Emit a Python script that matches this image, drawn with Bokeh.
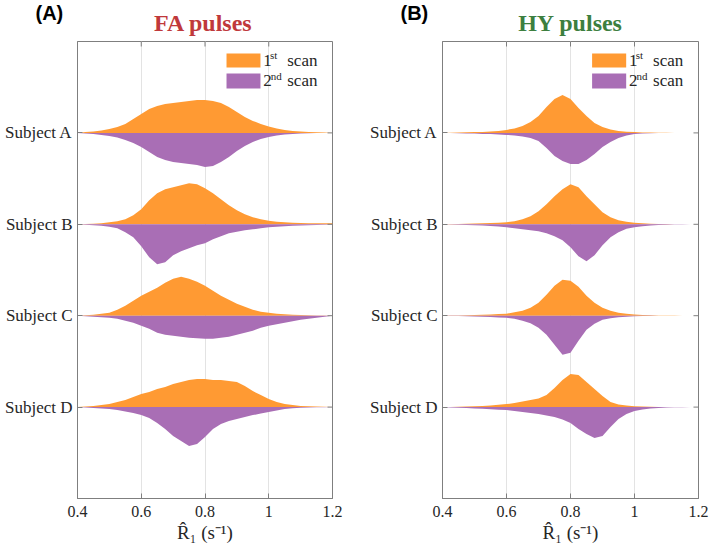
from bokeh.plotting import figure
from bokeh.layouts import row, column
from bokeh.models import Range1d, FixedTicker, Label, BoxAnnotation
from bokeh.embed import file_html
from bokeh.resources import INLINE
import numpy as np

# ---------------- data ----------------
r1_bins = [0.400, 0.425, 0.450, 0.475, 0.500, 0.525, 0.550, 0.575, 0.600, 0.625, 0.650,
           0.675, 0.700, 0.725, 0.750, 0.775, 0.800, 0.825, 0.850, 0.875, 0.900, 0.925,
           0.950, 0.975, 1.000, 1.025, 1.050, 1.075, 1.100, 1.125, 1.150, 1.175, 1.200]

subjects = ["Subject A", "Subject B", "Subject C", "Subject D"]
subject_pos = [1, 2, 3, 4]
x_ticks = [0.4, 0.6, 0.8, 1.0, 1.2]
x_tick_labels = ["0.4", "0.6", "0.8", "1", "1.2"]

# histogram densities (arbitrary units), FA pulses
fa_a_scan1 = [0, 1, 1.5, 2.5, 4, 6, 9, 14, 19, 24, 27, 29, 30, 31, 32, 33, 33, 32, 30, 26, 21, 16, 12, 9, 6.5, 4.5, 3, 2, 1.5, 1, 0.6, 0.3, 0]
fa_a_scan2 = [0, 0.5, 1, 2, 3, 4.5, 7, 10, 14, 19, 24, 27, 29, 30, 31, 32, 34, 33, 29, 24, 18, 13, 9, 6, 4, 2.5, 1.5, 1, 0.6, 0.4, 0.2, 0.1, 0]
fa_b_scan1 = [0, 0.3, 0.6, 1, 2, 3, 5, 9, 15, 24, 31, 35, 37, 39, 41, 40, 36, 31, 25, 19, 14, 10, 7, 5, 3.5, 2.5, 2, 1.5, 1.3, 1.1, 1, 1, 1]
fa_b_scan2 = [0, 0.5, 1, 1.5, 2.5, 4, 8, 13, 22, 33, 40, 38, 31, 27, 24, 21, 19, 15, 12, 9, 7.5, 6, 5, 4, 3, 2.5, 2, 1.5, 1.2, 1, 0.7, 0.5, 0.3]
fa_c_scan1 = [0, 0.5, 1, 2, 3, 6, 10, 15, 20, 24, 28, 33, 37, 39, 37, 34, 30, 25, 20, 16, 12, 9, 6, 4, 3, 2, 1.5, 1, 0.7, 0.5, 0.3, 0.2, 0]
fa_c_scan2 = [0, 0.5, 1, 1.5, 2, 3, 5, 7, 10, 13, 17, 19, 20, 21, 22, 22.5, 23, 23, 22, 21, 19, 17, 15, 12, 10, 8.5, 7, 5.5, 4, 3, 2, 1, 0]
fa_d_scan1 = [0, 0.5, 1, 2, 3, 5, 7, 10, 13, 15, 18, 20, 23, 25, 27, 28, 28, 27, 27, 26, 25, 21, 16, 12, 8, 5, 3, 2, 1.2, 0.8, 0.5, 0.3, 0]
fa_d_scan2 = [0, 0.5, 1, 1.5, 2, 3, 4.5, 6, 8, 11, 16, 22, 29, 34, 39, 37, 30, 22, 17, 14, 12, 10, 8, 6.5, 5, 3.5, 2, 1.2, 0.7, 0.4, 0.2, 0.1, 0]

# histogram densities (arbitrary units), HY pulses
hy_a_scan1 = [0, 0.2, 0.4, 0.6, 0.8, 1, 1.5, 2, 3, 4.5, 7, 11, 17, 26, 34, 38, 34, 25, 17, 10, 6, 3.5, 2, 1.2, 0.8, 0.5, 0.3, 0.2, 0.1, 0, 0, 0, 0]
hy_a_scan2 = [0, 0.2, 0.3, 0.5, 0.7, 1, 1.2, 1.5, 2, 2.5, 3.5, 5, 8, 15, 23, 28, 31, 31, 27, 21, 14, 9, 5, 2.5, 1.2, 0.6, 0.3, 0.1, 0, 0, 0, 0, 0]
hy_b_scan1 = [0, 0.2, 0.4, 0.6, 0.8, 1, 1.3, 1.6, 2, 3, 5, 8, 13, 20, 28, 35, 40, 37, 28, 20, 12, 7, 4, 2.5, 1.5, 1, 0.6, 0.4, 0.2, 0.1, 0, 0, 0]
hy_b_scan2 = [0, 0.2, 0.4, 0.6, 1, 1.3, 1.7, 2.2, 3, 4, 5, 6, 7, 9, 12, 16, 23, 32, 37, 31, 21, 13, 8, 4.5, 3, 2, 1.2, 0.7, 0.4, 0.2, 0.1, 0, 0]
hy_c_scan1 = [0, 0.2, 0.3, 0.5, 0.7, 1, 1.3, 1.7, 2, 3.5, 5, 8, 13, 21, 30, 36, 35, 29, 20, 13, 8, 5, 3, 2, 1.2, 0.8, 0.5, 0.3, 0.2, 0.1, 0, 0, 0]
hy_c_scan2 = [0, 0.2, 0.3, 0.5, 0.7, 1, 1.3, 1.7, 2, 3, 5, 7.5, 12, 19, 29, 39, 37, 25, 14, 8, 4, 2.5, 1.5, 1, 0.6, 0.3, 0.2, 0.1, 0, 0, 0, 0, 0]
hy_d_scan1 = [0, 0.2, 0.4, 0.6, 0.8, 1.2, 1.7, 2.3, 3, 4, 5.5, 7, 8.5, 12, 19, 27, 33, 32, 25, 18, 11, 5, 2.5, 1.5, 0.8, 0.5, 0.3, 0.1, 0, 0, 0, 0, 0]
hy_d_scan2 = [0, 0.3, 0.6, 1, 1.3, 1.7, 2.2, 2.6, 3, 4, 5, 6, 7, 8.5, 10, 12.5, 16, 22, 27, 31, 29, 20, 12, 7, 4, 2.5, 1.5, 0.8, 0.4, 0.2, 0.1, 0, 0]

fa_scan1 = [fa_a_scan1, fa_b_scan1, fa_c_scan1, fa_d_scan1]
fa_scan2 = [fa_a_scan2, fa_b_scan2, fa_c_scan2, fa_d_scan2]
hy_scan1 = [hy_a_scan1, hy_b_scan1, hy_c_scan1, hy_d_scan1]
hy_scan2 = [hy_a_scan2, hy_b_scan2, hy_c_scan2, hy_d_scan2]

# ---------------- style ----------------
DENSITY_PER_ROW = 91.4   # density units that span one row spacing
SERIF = "Liberation Serif"
ORANGE = "#ff9a33"
PURPLE = "#a96eb5"
AXIS_GRAY = "#7f7f7f"
TEXT = "#262626"
HEADER_H = 39


def make_header(tag, title, title_color, width, title_cx, tag_x):
    h = figure(width=width, height=HEADER_H, x_range=Range1d(0, width), y_range=Range1d(HEADER_H, 0),
               x_axis_type=None, y_axis_type=None, output_backend="svg", toolbar_location=None,
               min_border=0)
    h.outline_line_color = None
    h.grid.visible = False
    h.add_layout(Label(x=title_cx, y=22, text=title, text_font=SERIF, text_font_style="bold",
                       text_font_size="24px", text_color=title_color,
                       text_align="center", text_baseline="middle"))
    h.add_layout(Label(x=tag_x, y=12, text=tag, text_font="Liberation Sans",
                       text_font_style="bold", text_font_size="20px", text_color="black",
                       text_align="left", text_baseline="middle"))
    return h


def make_panel(scan1, scan2, width, ml, mr):
    p = figure(width=width, height=548 - HEADER_H, x_range=Range1d(0.4, 1.2), y_range=Range1d(5, 0),
               output_backend="svg", toolbar_location=None,
               min_border_left=ml, min_border_right=mr, min_border_top=2, min_border_bottom=50)
    p.background_fill_color = "white"
    p.border_fill_color = "white"
    p.outline_line_color = AXIS_GRAY
    p.outline_line_width = 1

    x = np.array(r1_bins)
    for i, subj in enumerate(subjects):
        base = subject_pos[i]
        h1 = np.array(scan1[i]) / DENSITY_PER_ROW
        h2 = np.array(scan2[i]) / DENSITY_PER_ROW
        p.varea(x=x, y1=base, y2=base - h1, fill_color=ORANGE, fill_alpha=1.0)
        p.varea(x=x, y1=base, y2=base + h2, fill_color=PURPLE, fill_alpha=1.0)

    # inward tick marks on the top and right edges of the box, following the ticks
    tick_len_y = 5 / DENSITY_PER_ROW
    tick_len_x = 5 * 0.8 / 255
    p.segment(x0=x_ticks, y0=[0] * len(x_ticks), x1=x_ticks, y1=[tick_len_y] * len(x_ticks),
              line_color=AXIS_GRAY, line_width=1)
    p.segment(x0=[1.2 - tick_len_x] * len(subject_pos), y0=subject_pos,
              x1=[1.2] * len(subject_pos), y1=subject_pos,
              line_color=AXIS_GRAY, line_width=1)

    # axes
    p.xaxis.ticker = FixedTicker(ticks=x_ticks)
    p.xaxis.major_label_overrides = dict(zip(x_ticks, x_tick_labels))
    p.yaxis.ticker = FixedTicker(ticks=subject_pos)
    p.yaxis.major_label_overrides = dict(zip(subject_pos, subjects))
    for ax in (p.xaxis[0], p.yaxis[0]):
        ax.axis_line_color = AXIS_GRAY
        ax.major_tick_line_color = AXIS_GRAY
        ax.major_tick_in = 5
        ax.major_tick_out = 0
        ax.minor_tick_line_color = None
        ax.major_label_text_font = SERIF
        ax.major_label_text_color = TEXT
    p.xaxis.major_label_text_font_size = "16px"
    p.yaxis.major_label_text_font_size = "17px"
    p.xaxis.major_label_standoff = 7
    p.yaxis.major_label_standoff = 5
    p.xaxis.axis_label = "R\u0302\u2081 (s\u207b\u00b9)"
    p.xaxis.axis_label_text_font = SERIF
    p.xaxis.axis_label_text_font_style = "normal"
    p.xaxis.axis_label_text_font_size = "19px"
    p.xaxis.axis_label_text_color = TEXT
    p.xaxis.axis_label_standoff = 2

    p.xgrid.grid_line_color = "#e3e3e3"
    p.ygrid.visible = False

    # legend
    p.add_layout(BoxAnnotation(left=0.8675, right=0.974, top=0.131, bottom=0.284,
                               fill_color=ORANGE, fill_alpha=1.0, line_color=None))
    p.add_layout(BoxAnnotation(left=0.8675, right=0.974, top=0.350, bottom=0.514,
                               fill_color=PURPLE, fill_alpha=1.0, line_color=None))
    for yc, num, sup, supx in ((0.208, "1", "st", 1.004), (0.432, "2", "nd", 1.006)):
        p.add_layout(Label(x=0.983, y=yc, text=num, text_font=SERIF, text_font_size="17px",
                           text_color=TEXT, text_baseline="middle"))
        p.add_layout(Label(x=supx, y=yc - 0.055, text=sup, text_font=SERIF, text_font_size="11px",
                           text_color=TEXT, text_baseline="middle"))
        p.add_layout(Label(x=1.058, y=yc, text="scan", text_font=SERIF, text_font_size="17px",
                           text_color=TEXT, text_baseline="middle"))
    return p


h1 = make_header("(A)", "FA pulses", "#c0393b", 363, 203, 35)
h2 = make_header("(B)", "HY pulses", "#3d7f3f", 346, 207, 37)
p1 = make_panel(fa_scan1, fa_scan2, 363, 77, 31)
p2 = make_panel(hy_scan1, hy_scan2, 346, 79, 11)

layout = column(row(h1, h2), row(p1, p2))
open("out.html", "w").write(file_html(layout, INLINE))
